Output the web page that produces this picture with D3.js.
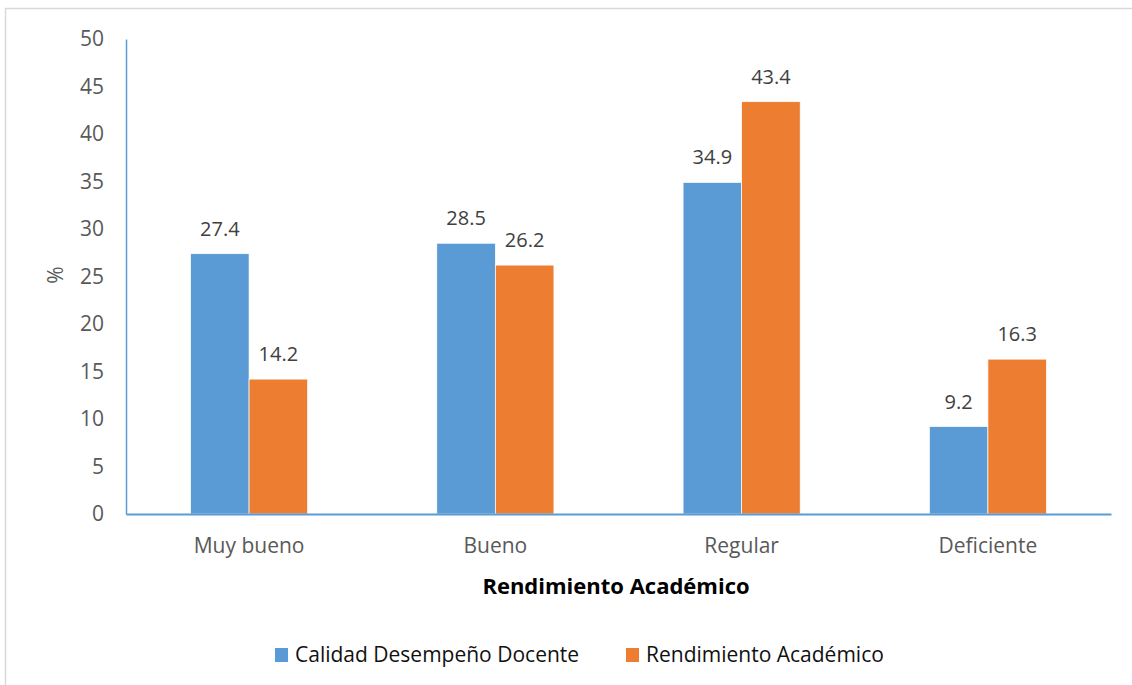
<!DOCTYPE html>
<html>
<head>
<meta charset="utf-8">
<script src="https://cdn.jsdelivr.net/npm/d3@7"></script>
<style>
  body { margin: 0; background: #fff; }
  svg text { font-family: "Open Sans", Lato, sans-serif; }
</style>
</head>
<body>
<svg id="chart" width="1132" height="685"></svg>
<script>
// data
const categories = ["Muy bueno", "Bueno", "Regular", "Deficiente"];
const seriesNames = ["Calidad Desempeño Docente", "Rendimiento Académico"];
const calidad = [27.4, 28.5, 34.9, 9.2];
const rendimiento = [14.2, 26.2, 43.4, 16.3];
const yTicks = [0, 5, 10, 15, 20, 25, 30, 35, 40, 45, 50];
const colors = ["#5B9BD5", "#ED7D31"];

const svg = d3.select("#chart");
const margin = {left: 126, right: 21, top: 39, bottom: 171};
const width = 1132, height = 685;

// chart border
svg.append("rect")
    .attr("x", 5.5).attr("y", 8.5)
    .attr("width", 1140).attr("height", 700)
    .attr("fill", "none").attr("stroke", "#d9d9d9").attr("stroke-width", 1.5);

let x = d3.scaleBand()
    .domain(categories)
    .range([margin.left, width - margin.right])
    .paddingInner(0.5245).paddingOuter(0.262);
let xSub = d3.scaleBand()
    .domain([0, 1])
    .range([0, x.bandwidth()]);
let y = d3.scaleLinear()
    .domain([0, 50])
    .range([height - margin.bottom, margin.top]);

let rows = categories.map((c, i) => ({cat: c, vals: [calidad[i], rendimiento[i]]}));

let groups = svg.append("g").selectAll("g")
    .data(rows)
    .enter()
    .append("g")
    .attr("transform", d => "translate(" + x(d.cat) + ",0)");

groups.selectAll("rect")
    .data(d => d.vals.map((v, k) => ({v: v, k: k})))
    .enter()
    .append("rect")
    .attr("x", d => xSub(d.k))
    .attr("y", d => y(d.v))
    .attr("width", xSub.bandwidth())
    .attr("height", d => y(0) - y(d.v))
    .attr("fill", d => colors[d.k])
    .attr("stroke", "#fff")
    .attr("stroke-width", 0.7);

groups.selectAll("text")
    .data(d => d.vals.map((v, k) => ({v: v, k: k})))
    .enter()
    .append("text")
    .attr("x", d => xSub(d.k) + xSub.bandwidth() / 2)
    .attr("y", d => y(d.v) - 18)
    .attr("text-anchor", "middle")
    .attr("fill", "#404040")
    .style("font-size", "20px")
    .text(d => d.v.toFixed(1));

// y axis
let yAxis = svg.append("g")
    .attr("transform", "translate(" + margin.left + ",0)")
    .call(d3.axisLeft(y).tickValues(yTicks).tickSize(0).tickPadding(22));
yAxis.select(".domain").attr("stroke", "#5B9BD5").attr("stroke-width", 1.5);
yAxis.selectAll("text").attr("fill", "#595959").style("font-size", "21px");

// x axis
let xAxis = svg.append("g")
    .attr("transform", "translate(0," + y(0) + ")")
    .call(d3.axisBottom(x).tickSize(0).tickPadding(24));
xAxis.select(".domain").attr("stroke", "#5B9BD5").attr("stroke-width", 2);
xAxis.selectAll("text").attr("fill", "#595959").style("font-size", "21px");

// axis titles
svg.append("text")
    .attr("x", 616).attr("y", 594)
    .attr("text-anchor", "middle")
    .attr("fill", "#000")
    .style("font-size", "22px").style("font-weight", "bold")
    .text("Rendimiento Académico");

svg.append("text")
    .attr("transform", "translate(63,275) rotate(-90)")
    .attr("text-anchor", "middle")
    .attr("fill", "#595959")
    .style("font-size", "21px")
    .text("%");

// legend
let legendX = [275, 626];
let legend = svg.append("g").selectAll("g")
    .data(seriesNames)
    .enter()
    .append("g")
    .attr("transform", (d, i) => "translate(" + legendX[i] + ",648)");
legend.append("rect")
    .attr("width", 13).attr("height", 14)
    .attr("fill", (d, i) => colors[i]);
legend.append("text")
    .attr("x", 20).attr("y", 14)
    .attr("fill", "#111")
    .style("font-size", "21px")
    .text(d => d);
</script>
</body>
</html>
